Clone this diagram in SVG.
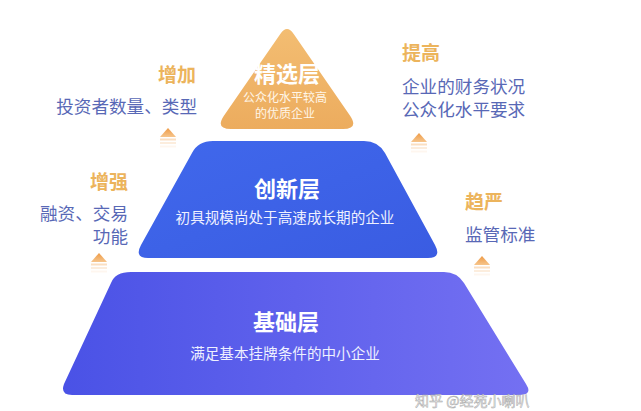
<svg xmlns="http://www.w3.org/2000/svg" width="641" height="411" viewBox="0 0 641 411">
<defs>
<linearGradient id="gOr" x1="0" y1="0" x2="0" y2="1"><stop offset="0" stop-color="#F3BD72"/><stop offset="1" stop-color="#ECAC5E"/></linearGradient>
<linearGradient id="gBl" x1="0" y1="0" x2="1" y2="1"><stop offset="0" stop-color="#4068EC"/><stop offset="1" stop-color="#3A5CE2"/></linearGradient>
<linearGradient id="gPu" x1="0" y1="0" x2="1" y2="0"><stop offset="0" stop-color="#4A52E6"/><stop offset="1" stop-color="#7470F2"/></linearGradient>
<linearGradient id="gAr" x1="0" y1="0" x2="0" y2="1"><stop offset="0" stop-color="#EE9A45"/><stop offset="1" stop-color="#F6C58C"/></linearGradient>
<g id="arr">
<polygon points="0,0 8,9 -8,9" fill="url(#gAr)"/>
<rect x="-8" y="10.5" width="16" height="2" fill="#F4B878" opacity="0.45"/>
<rect x="-8" y="14" width="16" height="2" fill="#F4B878" opacity="0.25"/>
<rect x="-8" y="17.5" width="16" height="2" fill="#F4B878" opacity="0.12"/>
</g>
</defs>
<style>
.t{font-family:"Noto Sans CJK SC","Noto Sans",sans-serif;}
.ttl{font-size:22px;font-weight:bold;fill:#FFFFFF;text-anchor:middle;}
.sub{font-size:14.6px;fill:#EEF0FF;text-anchor:middle;}
.sm{font-size:12px;fill:#FFF6E8;text-anchor:middle;}
.or{font-size:19px;font-weight:bold;fill:#ECB45C;}
.bl{font-size:17.6px;fill:#5868B6;}
.wm{font-size:14px;fill:#F4F4F4;stroke:#A8A8A8;stroke-width:0.5;}
</style>
<rect width="641" height="411" fill="#FFFFFF"/>
<g id="node-base">
<path d="M131,272 L444,272 Q457,272 464,283 L526,384 Q533,395 520,395 L72,395 Q60,395 64,384 L111,283 Q115,272 131,272 Z" fill="url(#gPu)"/>
<text class="t ttl" x="286" y="320" dominant-baseline="central">基础层</text>
<text class="t sub" x="285" y="352" dominant-baseline="central">满足基本挂牌条件的中小企业</text>
</g>
<g id="node-innov">
<path d="M213,141 L364,141 Q378,141 385,153 L435,245 Q442,258 428,258 L148,258 Q134,258 141,245 L192,153 Q198,141 213,141 Z" fill="url(#gBl)"/>
<text class="t ttl" x="287" y="187" dominant-baseline="central">创新层</text>
<text class="t sub" x="285" y="216" dominant-baseline="central">初具规模尚处于高速成长期的企业</text>
</g>
<g id="node-select">
<path d="M280.3,33.9 Q287,24 293.7,33.9 L350.1,115.7 Q359,129 343,129 L231,129 Q215,129 223.9,115.7 Z" fill="url(#gOr)"/>
<text class="t ttl" x="287" y="72" dominant-baseline="central">精选层</text>
<text class="t sm" x="285" y="96" dominant-baseline="central">公众化水平较高</text>
<text class="t sm" x="285" y="112" dominant-baseline="central">的优质企业</text>
</g>
<g id="label-left-top">
<text class="t or" x="196" y="73" text-anchor="end" dominant-baseline="central">增加</text>
<text class="t bl" x="197" y="105" text-anchor="end" dominant-baseline="central">投资者数量、类型</text>
</g>
<g id="label-left-mid">
<text class="t or" x="128" y="180" text-anchor="end" dominant-baseline="central">增强</text>
<text class="t bl" x="128" y="212" text-anchor="end" dominant-baseline="central">融资、交易</text>
<text class="t bl" x="128" y="235" text-anchor="end" dominant-baseline="central">功能</text>
</g>
<g id="label-right-top">
<text class="t or" x="402" y="51" dominant-baseline="central">提高</text>
<text class="t bl" x="402" y="85" dominant-baseline="central">企业的财务状况</text>
<text class="t bl" x="402" y="108" dominant-baseline="central">公众化水平要求</text>
</g>
<g id="label-right-mid">
<text class="t or" x="465" y="200" dominant-baseline="central">趋严</text>
<text class="t bl" x="465" y="233" dominant-baseline="central">监管标准</text>
</g>
<g id="connectors">
<use href="#arr" x="168" y="128"/>
<use href="#arr" x="419" y="133"/>
<use href="#arr" x="99" y="253"/>
<use href="#arr" x="482" y="256"/>
</g>
<text class="t wm" x="415" y="400" dominant-baseline="central">知乎 @经苑小喇叭</text>
</svg>
